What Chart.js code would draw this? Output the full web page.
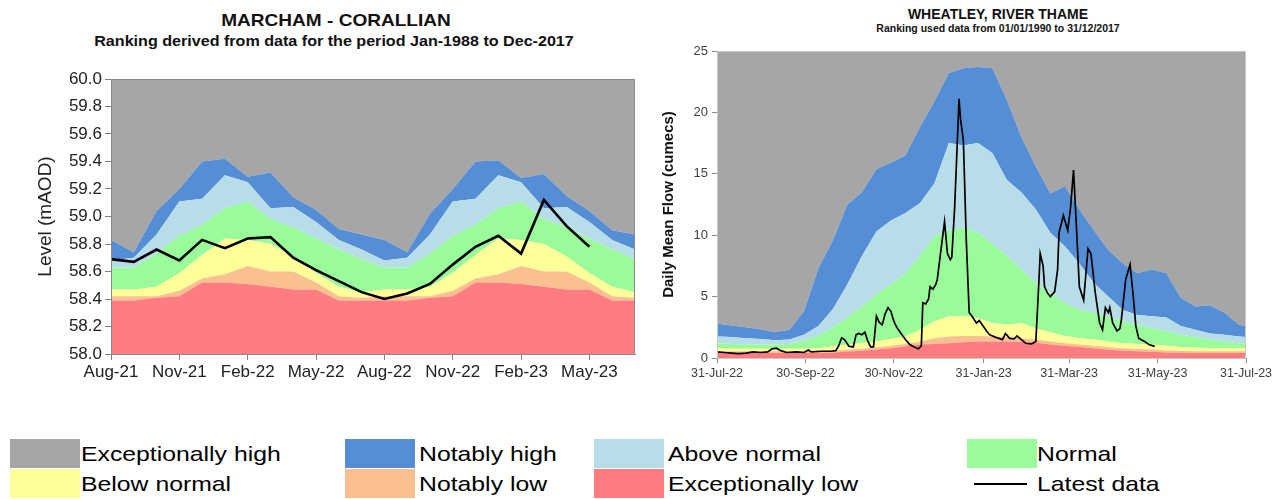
<!DOCTYPE html>
<html>
<head>
<meta charset="utf-8">
<script src="https://cdn.jsdelivr.net/npm/chart.js@4.4.0/dist/chart.umd.min.js"></script>
<style>
body { margin:0; width:1288px; height:499px; background:#fff; position:relative; overflow:hidden; font-family:"Liberation Sans", Arial, sans-serif; }
canvas { position:absolute; top:0; }
.t { position:absolute; white-space:nowrap; font-weight:bold; color:#111; }
.box { position:absolute; width:70px; height:29px; }
.lab { position:absolute; font-size:21px; line-height:29px; height:29px; transform:scaleX(1.18); transform-origin:left center; white-space:nowrap; color:#000; }
</style>
</head>
<body>

<div class="t" style="left:336px; top:21px; font-size:17px; transform:translate(-50%,-50%) scaleX(1.12);">MARCHAM - CORALLIAN</div>
<div class="t" style="left:334px; top:41px; font-size:14px; transform:translate(-50%,-50%) scaleX(1.15);">Ranking derived from data for the period Jan-1988 to Dec-2017</div>
<div class="t" style="left:998px; top:14px; font-size:14px; transform:translate(-50%,-50%);">WHEATLEY, RIVER THAME</div>
<div class="t" style="left:998px; top:28px; font-size:10.5px; transform:translate(-50%,-50%);">Ranking used data from 01/01/1990 to 31/12/2017</div>

<canvas id="marcham" width="650" height="400" style="left:0"></canvas>
<canvas id="wheatley" width="633" height="400" style="left:655px"></canvas>

<div id="legend"></div>

<script>
// colours of the ranking bands
const cExHigh = '#a6a6a6';
const cNotHigh = '#558ed5';
const cAbove = '#b7dde8';
const cNormal = '#99fb99';
const cBelow = '#ffff99';
const cNotLow = '#fac090';
const cExLow = '#ff7c80';

// ---- Marcham - Corallian (monthly levels, mAOD)
const monthLabels = ['Aug-21','Sep-21','Oct-21','Nov-21','Dec-21','Jan-22','Feb-22','Mar-22','Apr-22','May-22','Jun-22','Jul-22',
                     'Aug-22','Sep-22','Oct-22','Nov-22','Dec-22','Jan-23','Feb-23','Mar-23','Apr-23','May-23','Jun-23','Jul-23'];
// top edge of each band
const marchamExLow   = [58.39,58.39,58.41,58.42,58.52,58.52,58.51,58.49,58.47,58.47,58.39,58.39, 58.39,58.39,58.41,58.42,58.52,58.52,58.51,58.49,58.47,58.47,58.39,58.39];
const marchamNotLow  = [58.42,58.42,58.42,58.46,58.55,58.58,58.64,58.60,58.60,58.52,58.42,58.41, 58.42,58.42,58.42,58.46,58.55,58.58,58.64,58.60,58.60,58.52,58.42,58.41];
const marchamBelow   = [58.47,58.47,58.49,58.59,58.72,58.84,58.83,58.80,58.71,58.59,58.49,58.45, 58.47,58.47,58.49,58.59,58.72,58.84,58.83,58.80,58.71,58.59,58.49,58.45];
const marchamNormal  = [58.63,58.63,58.73,58.86,58.94,59.06,59.11,58.98,58.92,58.84,58.76,58.69, 58.63,58.63,58.73,58.86,58.94,59.06,59.11,58.98,58.92,58.84,58.76,58.69];
const marchamAbove   = [58.68,58.70,58.87,59.11,59.13,59.30,59.25,59.06,59.07,58.96,58.83,58.76, 58.68,58.70,58.87,59.11,59.13,59.30,59.25,59.06,59.07,58.96,58.83,58.76];
const marchamNotHigh = [58.83,58.74,59.04,59.20,59.40,59.42,59.29,59.32,59.14,59.05,58.91,58.87, 58.83,58.74,59.02,59.20,59.40,59.41,59.28,59.31,59.15,59.04,58.90,58.87];
const marchamLatest  = [58.69,58.67,58.76,58.68,58.83,58.77,58.84,58.85,58.70,58.61,58.53,58.45,
                        58.40,58.44,58.51,58.65,58.78,58.86,58.73,59.12,58.93,58.78,null,null];

// ---- Wheatley, River Thame (daily mean flow, cumecs), x = days after 31-Jul-22
const tickDays = [0,61,122,184,243,304,365];
const tickLabels = ['31-Jul-22','30-Sep-22','30-Nov-22','31-Jan-23','31-Mar-23','31-May-23','31-Jul-23'];
const bandDays = [0,10,20,30,40,50,60,70,80,90,100,110,120,130,140,150,160,170,180,190,200,210,220,230,240,250,260,270,280,290,300,310,320,330,340,350,360,365];
const thameExLow   = [0.42,0.42,0.4,0.4,0.4,0.4,0.4,0.42,0.45,0.52,0.6,0.7,0.8,0.95,1.1,1.15,1.2,1.28,1.35,1.35,1.35,1.3,1.25,1.1,1.0,0.9,0.8,0.7,0.6,0.55,0.5,0.45,0.42,0.4,0.4,0.4,0.4,0.4];
const thameNotLow  = [0.55,0.55,0.55,0.55,0.55,0.55,0.55,0.58,0.6,0.68,0.75,0.88,1.0,1.15,1.35,1.6,1.75,1.8,1.8,1.75,1.7,1.6,1.5,1.35,1.2,1.1,1.0,0.9,0.8,0.75,0.7,0.62,0.58,0.55,0.55,0.55,0.55,0.55];
const thameBelow   = [0.8,0.75,0.75,0.75,0.75,0.75,0.75,0.8,0.95,1.1,1.2,1.35,1.55,1.75,2.3,3.0,3.4,3.45,3.25,2.85,2.7,2.85,2.4,2.1,1.8,1.6,1.5,1.35,1.2,1.15,1.1,1.0,0.9,0.85,0.8,0.8,0.8,0.8];
const thameNormal  = [1.2,1.15,1.1,1.1,1.1,1.15,1.4,1.8,2.5,3.3,4.2,5.2,6.0,6.9,8.3,9.9,10.4,10.6,10.2,9.3,8.3,7.2,6.1,5.3,4.5,3.9,3.7,3.4,3.0,2.7,2.4,2.2,1.9,1.7,1.5,1.35,1.2,1.2];
const thameAbove   = [1.75,1.7,1.6,1.55,1.45,1.5,1.9,2.6,4.0,6.0,8.3,10.3,11.2,11.8,12.6,14.2,17.5,17.3,17.5,16.7,14.5,13.5,12.1,10.2,9.1,7.7,6.1,5.0,3.9,3.5,3.4,3.3,2.6,2.3,2.0,1.9,1.75,1.7];
const thameNotHigh = [2.8,2.65,2.5,2.35,2.1,2.3,3.8,7.3,9.6,12.5,13.5,15.4,15.9,16.5,18.8,20.9,23.2,23.6,23.7,23.6,21.0,18.0,15.6,13.4,14.0,12.1,10.4,8.8,7.7,6.9,7.2,6.9,4.9,4.2,4.3,3.7,2.7,2.6];
const lineDays = [0,5,10,15,20,25,30,35,38,41,44,48,55,60,63,65,72,78,82,84,86,88,91,94,96,98,100,102,104,106,108,110,112,114,116,118,120,122,124,127,130,133,136,139,141,
                  142,144,146,147,149,151,152,154,157,159,161,162,164,167,168,170,172,174,176,179,181,183,186,188,192,197,199,202,205,207,210,213,217,220,
                  222,223,225,226,228,230,233,235,236,239,242,244,246,248,250,253,254,256,258,261,264,266,268,270,271,273,276,278,279,282,285,287,289,291,295,298,302];
const lineFlow = [0.5,0.45,0.4,0.35,0.4,0.5,0.45,0.5,0.75,0.8,0.6,0.45,0.5,0.45,0.65,0.5,0.55,0.55,0.6,1.0,1.65,1.5,0.95,0.9,1.9,2.0,1.9,2.1,1.4,0.9,0.9,3.4,2.9,2.7,3.6,4.1,3.8,3.0,2.5,2.0,1.5,1.1,0.9,0.75,1.0,
                  4.5,4.4,4.8,5.8,5.6,6.0,6.4,8.3,11.1,8.5,8.0,8.2,12.3,21.1,19.5,17.7,9.6,3.7,3.4,2.85,3.05,2.7,2.2,1.9,1.7,1.5,2.0,1.6,1.55,1.8,1.5,1.2,1.15,1.35,
                  6.0,8.5,7.5,5.8,5.3,5.0,5.4,7.2,10.2,11.6,10.4,12.3,15.3,10.7,5.8,4.7,6.1,8.9,8.5,5.3,2.85,2.3,4.1,3.7,4.1,2.85,2.2,2.4,3.1,6.4,7.6,5.3,2.6,1.6,1.35,1.1,0.95];

function xy(xs, ys) {
  return xs.map((x, i) => ({x: x, y: ys[i]}));
}

function band(data, color, fill) {
  return { data: data, backgroundColor: color, borderWidth: 0, pointRadius: 0, fill: fill, tension: 0 };
}

// thin frame round the plot area
function framePlugin(color) {
  return {
    id: 'frame',
    afterDraw(chart) {
      const a = chart.chartArea, ctx = chart.ctx;
      ctx.save();
      ctx.strokeStyle = color;
      ctx.lineWidth = 1;
      ctx.strokeRect(a.left + 0.5, a.top + 0.5, a.right - a.left - 1, a.bottom - a.top);
      ctx.restore();
    }
  };
}

Chart.defaults.font.family = '"Liberation Sans", Arial, sans-serif';
Chart.defaults.animation = false;

new Chart(document.getElementById('marcham'), {
  type: 'line',
  data: {
    labels: monthLabels,
    datasets: [
      { data: marchamLatest, borderColor: '#000', borderWidth: 2.6, pointRadius: 0, fill: false, tension: 0 },
      band(marchamExLow, cExLow, 'start'),
      band(marchamNotLow, cNotLow, '-1'),
      band(marchamBelow, cBelow, '-1'),
      band(marchamNormal, cNormal, '-1'),
      band(marchamAbove, cAbove, '-1'),
      band(marchamNotHigh, cNotHigh, '-1'),
      band(marchamNotHigh, cExHigh, 'end')
    ]
  },
  options: {
    responsive: false,
    layout: { padding: { top: 79, right: 15, bottom: 0, left: 0 } },
    plugins: { legend: { display: false }, tooltip: { enabled: false } },
    scales: {
      x: {
        grid: { drawOnChartArea: false, tickLength: 6, color: '#7f7f7f' },
        border: { color: '#7f7f7f' },
        ticks: {
          autoSkip: false, maxRotation: 0, padding: 2, color: '#222', font: { size: 17 },
          callback: function(v, i) { return i % 3 === 0 ? monthLabels[i] : null; }
        },
        afterFit: function(s) { s.height = 46; }
      },
      y: {
        min: 58, max: 60,
        grid: { drawOnChartArea: false, tickLength: 6, color: '#7f7f7f' },
        border: { color: '#7f7f7f' },
        ticks: { stepSize: 0.2, color: '#222', font: { size: 17 }, padding: 3,
          callback: function(v) { return Number(v).toFixed(1); } },
        title: { display: true, text: 'Level (mAOD)', color: '#222', font: { size: 19 }, padding: { top: 34, bottom: 0 } },
        afterFit: function(s) { s.width = 111; }
      }
    }
  },
  plugins: [framePlugin('#8a8a8a')]
});

new Chart(document.getElementById('wheatley'), {
  type: 'line',
  data: {
    datasets: [
      { data: xy(lineDays, lineFlow), borderColor: '#000', borderWidth: 1.7, pointRadius: 0, fill: false, tension: 0 },
      band(xy(bandDays, thameExLow), cExLow, 'start'),
      band(xy(bandDays, thameNotLow), cNotLow, '-1'),
      band(xy(bandDays, thameBelow), cBelow, '-1'),
      band(xy(bandDays, thameNormal), cNormal, '-1'),
      band(xy(bandDays, thameAbove), cAbove, '-1'),
      band(xy(bandDays, thameNotHigh), cNotHigh, '-1'),
      band(xy(bandDays, thameNotHigh), cExHigh, 'end')
    ]
  },
  options: {
    responsive: false,
    layout: { padding: { top: 51, right: 42, bottom: 0, left: 0 } },
    plugins: { legend: { display: false }, tooltip: { enabled: false } },
    scales: {
      x: {
        type: 'linear', min: 0, max: 365,
        grid: { drawOnChartArea: false, tickLength: 5, color: '#8c8c8c' },
        border: { color: '#8c8c8c' },
        afterBuildTicks: function(s) { s.ticks = tickDays.map(v => ({ value: v })); },
        ticks: {
          autoSkip: false, maxRotation: 0, padding: 3, color: '#404040', font: { size: 12.5 },
          callback: function(v) { return tickLabels[tickDays.indexOf(v)]; }
        },
        afterFit: function(s) { s.height = 42; }
      },
      y: {
        min: 0, max: 25,
        grid: { drawOnChartArea: false, tickLength: 5, color: '#8c8c8c' },
        border: { color: '#8c8c8c' },
        ticks: { stepSize: 5, color: '#404040', font: { size: 13 }, padding: 4 },
        title: { display: true, text: 'Daily Mean Flow (cumecs)', color: '#111', font: { size: 15, weight: 'bold' }, padding: { top: 5, bottom: 0 } },
        afterFit: function(s) { s.width = 62; }
      }
    }
  },
  plugins: [framePlugin('#c8c8c8')]
});

// shared legend underneath
const legendItems = [
  ['Exceptionally high', cExHigh, 10, 81, 0], ['Notably high', cNotHigh, 345, 419, 0],
  ['Above normal', cAbove, 594, 668, 0], ['Normal', cNormal, 967, 1037, 0],
  ['Below normal', cBelow, 10, 81, 1], ['Notably low', cNotLow, 345, 419, 1],
  ['Exceptionally low', cExLow, 594, 668, 1], ['Latest data', null, 967, 1037, 1]
];
const legend = document.getElementById('legend');
legendItems.forEach(function(it) {
  const top = 439 + it[4] * 30;
  const b = document.createElement('div');
  if (it[1]) {
    b.className = 'box';
    b.style.cssText = 'left:' + it[2] + 'px; top:' + top + 'px; background:' + it[1] + ';';
  } else {
    b.style.cssText = 'position:absolute; left:974px; top:' + (top + 14) + 'px; width:53px; height:2px; background:#000;';
  }
  legend.appendChild(b);
  const t = document.createElement('div');
  t.className = 'lab';
  t.style.left = it[3] + 'px';
  t.style.top = top + 'px';
  t.textContent = it[0];
  legend.appendChild(t);
});
</script>
</body>
</html>
